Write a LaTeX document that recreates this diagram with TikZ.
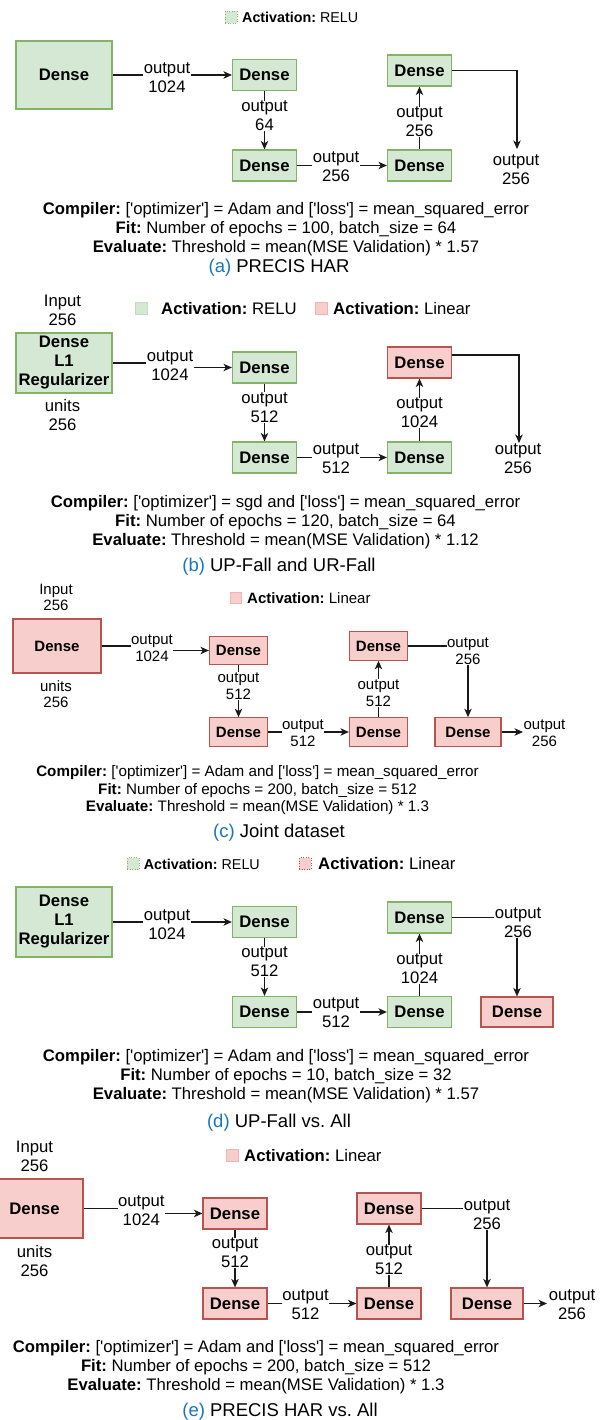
\documentclass[tikz,border=0pt]{standalone}
\usepackage{fontspec}
\setmainfont{Liberation Sans}
\usetikzlibrary{arrows.meta}
\definecolor{reluF}{HTML}{D5E8D4}
\definecolor{reluD}{HTML}{82B366}
\definecolor{linF}{HTML}{F8CECC}
\definecolor{linD}{HTML}{B85450}
\definecolor{capblue}{HTML}{1A75BB}
\newcommand\fsA{\fontsize{16.7}{19}\selectfont}
\newcommand\fsC{\fontsize{15}{16.7}\selectfont}
\newcommand\fsCfg{\fontsize{15.2}{17.5}\selectfont}
\newcommand\fsLg{\fontsize{14.3}{17}\selectfont}
\newcommand\fsCap{\fontsize{18.5}{22}\selectfont}
\newcommand\sq{\textquotesingle}
\pgfdeclarelayer{bg}
\pgfsetlayers{bg,main}
\frenchspacing

\begin{document}
\begin{tikzpicture}[x=1pt,y=-1pt]
	\tikzset{dense/.style={draw, line width=1.2pt, font=\fsA\bfseries, minimum width=64pt, minimum height=31pt, inner sep=0pt, align=center}}
	\tikzset{relu/.style={dense, fill=reluF, draw=reluD}}
	\tikzset{lin/.style={dense, fill=linF, draw=linD}}
	\tikzset{outlbl/.style={fill=white, align=center, inner sep=0.5pt, font=\fsA}}
	\tikzset{endlbl/.style={outlbl, fill=none}}
	\tikzset{txt/.style={align=center, inner sep=0pt, font=\fsA}}
	\tikzset{cfg/.style={align=center, inner sep=0pt, font=\fsA}}
	\tikzset{capt/.style={inner sep=0pt, font=\fsCap}}
	\tikzset{legsq/.style={minimum size=12pt, inner sep=0pt, line width=0.6pt}}
	\tikzset{legtx/.style={anchor=west, inner sep=0pt, font=\fsA}}
	\tikzset{link/.style={draw=black!90, line width=1.1pt}}
	\tikzset{arr/.style={link, -{Stealth[length=8.5pt, width=7.5pt, inset=2.5pt]}}}
	\clip (0,0) rectangle (612,1420);

	\node[legsq, fill=reluF, draw=reluD, dotted] (a-lsq) at (231,17) {};
	\node[legtx, font=\fsLg] (a-ltx) at (242,17) {\textbf{Activation:} RELU};
	\node[relu, minimum width=96pt, minimum height=68pt] (a1) at (64,75) {Dense};
	\node[relu] (a2) at (264.5,75) {Dense};
	\node[relu] (a3) at (264.5,165.5) {Dense};
	\node[relu] (a4) at (419.5,165.5) {Dense};
	\node[relu] (a5) at (419.5,70.5) {Dense};
	\coordinate (a-end) at (517,149);
	\node[outlbl] (a-o1) at (167,77.5) {output\\1024};
	\node[outlbl] (a-o2) at (264.5,116) {output\\64};
	\node[outlbl] (a-o3) at (336,166.5) {output\\256};
	\node[outlbl] (a-o4) at (419.5,122) {output\\256};
	\node[endlbl] (a-o5) at (516,169.5) {output\\256};
	\begin{pgfonlayer}{bg}
		\draw[arr] (a1) -- (a2);
		\draw[arr] (a2) -- (a3);
		\draw[arr] (a3) -- (a4);
		\draw[arr] (a4) -- (a5);
		\draw[arr] (a5.east) -| (a-end);
	\end{pgfonlayer}
	\node[cfg] (a-cfg) at (286,229) {\textbf{Compiler:} [\sq optimizer\sq] = Adam and [\sq loss\sq] = mean\_squared\_error\\
		\textbf{Fit:} Number of epochs = 100, batch\_size = 64\\
		\textbf{Evaluate:} Threshold = mean(MSE Validation) * 1.57};
	\node[capt] (a-cap) at (279,268) {\textcolor{capblue}{(a)} PRECIS HAR};

	\node[txt] (b-in) at (62.5,310) {Input\\256};
	\node[legsq, fill=reluF, draw=reluF!80!reluD] (b-lsq1) at (141,308.5) {};
	\node[legtx] (b-ltx1) at (161,309) {\textbf{Activation:} RELU};
	\node[legsq, fill=linF, draw=linF!80!linD] (b-lsq2) at (321,308.5) {};
	\node[legtx] (b-ltx2) at (333,309) {\textbf{Activation:} Linear};
	\node[relu, minimum width=96pt, minimum height=60pt] (b1) at (64,363) {Dense\\L1\\Regularizer};
	\node[txt] (b-un) at (62.5,415.5) {units\\256};
	\node[relu] (b2) at (264.5,367.5) {Dense};
	\node[relu] (b3) at (264.5,457.5) {Dense};
	\node[relu] (b4) at (419.5,457.5) {Dense};
	\node[lin] (b5) at (419.5,362.5) {Dense};
	\coordinate (b-end) at (519,443);
	\node[outlbl] (b-o1) at (170,365.5) {output\\1024};
	\node[outlbl] (b-o2) at (264.5,407.5) {output\\512};
	\node[outlbl] (b-o3) at (336,459) {output\\512};
	\node[outlbl] (b-o4) at (419.5,413) {output\\1024};
	\node[endlbl] (b-o5) at (518,459) {output\\256};
	\begin{pgfonlayer}{bg}
		\draw[arr] (b1.east) -| (b-o1.center) |- (b2.west);
		\draw[arr] (b2) -- (b3);
		\draw[arr] (b3) -- (b4);
		\draw[arr] (b4) -- (b5);
		\draw[arr] ([yshift=7.5pt]b5.east) -| (b-end);
	\end{pgfonlayer}
	\node[cfg] (b-cfg) at (285.5,522) {\textbf{Compiler:} [\sq optimizer\sq] = sgd and [\sq loss\sq] = mean\_squared\_error\\
		\textbf{Fit:} Number of epochs = 120, batch\_size = 64\\
		\textbf{Evaluate:} Threshold = mean(MSE Validation) * 1.12};
	\node[capt] (b-cap) at (279,567) {\textcolor{capblue}{(b)} UP-Fall and UR-Fall};

	\begin{scope}[dense/.append style={font=\fsC\bfseries, minimum width=58pt, minimum height=28.5pt}, outlbl/.append style={font=\fsC}, txt/.append style={font=\fsC}]
		\node[txt] (c-in) at (56,597.5) {Input\\256};
		\node[legsq, minimum size=11pt, fill=linF, draw=linF!80!linD] (c-lsq) at (235.5,597.5) {};
		\node[legtx, font=\fsC] (c-ltx) at (247,598) {\textbf{Activation:} Linear};
		\node[lin, minimum width=88pt, minimum height=54pt] (c1) at (57,646) {Dense};
		\node[txt] (c-un) at (56,694) {units\\256};
		\node[lin] (c2) at (238.5,650.5) {Dense};
		\node[lin] (c3) at (238.5,732) {Dense};
		\node[lin] (c4) at (378.5,732) {Dense};
		\node[lin] (c5) at (378.5,646) {Dense};
		\node[lin, minimum width=66pt] (c6) at (468,732) {Dense};
		\coordinate (c-end) at (523,732);
		\node[outlbl] (c-o1) at (152,648) {output\\1024};
		\node[outlbl] (c-o2) at (238.5,686) {output\\512};
		\node[outlbl] (c-o3) at (303,733) {output\\512};
		\node[outlbl] (c-o4) at (378.5,693) {output\\512};
		\node[outlbl] (c-o5) at (468,651) {output\\256};
		\node[endlbl] (c-o6) at (544.5,733) {output\\256};
		\begin{pgfonlayer}{bg}
			\draw[arr] (c1.east) -| (c-o1.center) |- (c2.west);
			\draw[arr] (c2) -- (c3);
			\draw[arr] (c3) -- (c4);
			\draw[arr] (c4) -- (c5);
			\draw[arr] (c5.east) -| (c6.north);
			\draw[arr] (c6) -- (c-end);
		\end{pgfonlayer}
		\node[cfg, font=\fsCfg] (c-cfg) at (257.5,790.5) {\textbf{Compiler:} [\sq optimizer\sq] = Adam and [\sq loss\sq] = mean\_squared\_error\\
			\textbf{Fit:} Number of epochs = 200, batch\_size = 512\\
			\textbf{Evaluate:} Threshold = mean(MSE Validation) * 1.3};
	\end{scope}
	\node[capt] (c-cap) at (279,833) {\textcolor{capblue}{(c)} Joint dataset};

	\node[legsq, fill=reluF, draw=reluD, dotted] (d-lsq1) at (133,863.5) {};
	\node[legtx, font=\fsLg] (d-ltx1) at (143.6,864) {\textbf{Activation:} RELU};
	\node[legsq, fill=linF, draw=linD, dotted] (d-lsq2) at (305,863.5) {};
	\node[legtx] (d-ltx2) at (318,864) {\textbf{Activation:} Linear};
	\node[relu, minimum width=96pt, minimum height=70pt] (d1) at (64,922) {Dense\\L1\\Regularizer};
	\node[relu] (d2) at (264.5,922) {Dense};
	\node[relu] (d3) at (264.5,1012) {Dense};
	\node[relu] (d4) at (419.5,1012) {Dense};
	\node[relu] (d5) at (419.5,917.5) {Dense};
	\node[lin, minimum width=72pt, minimum height=30pt] (d6) at (517,1012) {Dense};
	\node[outlbl] (d-o1) at (167,924.5) {output\\1024};
	\node[outlbl] (d-o2) at (264.5,962) {output\\512};
	\node[outlbl] (d-o3) at (336,1013) {output\\512};
	\node[outlbl] (d-o4) at (419.5,969) {output\\1024};
	\node[outlbl] (d-o5) at (518,923) {output\\256};
	\begin{pgfonlayer}{bg}
		\draw[arr] (d1) -- (d2);
		\draw[arr] (d2) -- (d3);
		\draw[arr] (d3) -- (d4);
		\draw[arr] (d4) -- (d5);
		\draw[arr] (d5.east) -| (d6.north);
	\end{pgfonlayer}
	\node[cfg] (d-cfg) at (286,1076) {\textbf{Compiler:} [\sq optimizer\sq] = Adam and [\sq loss\sq] = mean\_squared\_error\\
		\textbf{Fit:} Number of epochs = 10, batch\_size = 32\\
		\textbf{Evaluate:} Threshold = mean(MSE Validation) * 1.57};
	\node[capt] (d-cap) at (279,1123) {\textcolor{capblue}{(d)} UP-Fall vs. All};

	\node[txt] (e-in) at (34.5,1156) {Input\\256};
	\node[legsq, fill=linF, draw=linF!80!linD] (e-lsq) at (232,1155.5) {};
	\node[legtx] (e-ltx) at (244,1156) {\textbf{Activation:} Linear};
	\node[lin, minimum width=97pt, minimum height=59pt] (e1) at (34.5,1208.5) {Dense};
	\node[txt] (e-un) at (34.5,1261.5) {units\\256};
	\node[lin] (e2) at (235,1213.5) {Dense};
	\node[lin] (e3) at (235,1303.5) {Dense};
	\node[lin] (e4) at (389,1303.5) {Dense};
	\node[lin] (e5) at (389,1208.5) {Dense};
	\node[lin, minimum width=72pt] (e6) at (487,1303.5) {Dense};
	\coordinate (e-end) at (547,1303.5);
	\node[outlbl] (e-o1) at (141.3,1211) {output\\1024};
	\node[outlbl] (e-o2) at (235,1253) {output\\512};
	\node[outlbl] (e-o3) at (305.6,1305) {output\\512};
	\node[outlbl] (e-o4) at (389,1260) {output\\512};
	\node[outlbl] (e-o5) at (487,1214.5) {output\\256};
	\node[endlbl] (e-o6) at (572,1305) {output\\256};
	\begin{pgfonlayer}{bg}
		\draw[arr] (e1.east) -| (e-o1.center) |- (e2.west);
		\draw[arr] (e2) -- (e3);
		\draw[arr] (e3) -- (e4);
		\draw[arr] (e4) -- (e5);
		\draw[arr] (e5.east) -| (e6.north);
		\draw[arr] (e6) -- (e-end);
	\end{pgfonlayer}
	\node[cfg] (e-cfg) at (256,1366.7) {\textbf{Compiler:} [\sq optimizer\sq] = Adam and [\sq loss\sq] = mean\_squared\_error\\
		\textbf{Fit:} Number of epochs = 200, batch\_size = 512\\
		\textbf{Evaluate:} Threshold = mean(MSE Validation) * 1.3};
	\node[capt] (e-cap) at (280,1412) {\textcolor{capblue}{(e)} PRECIS HAR vs. All};
\end{tikzpicture}
\end{document}
